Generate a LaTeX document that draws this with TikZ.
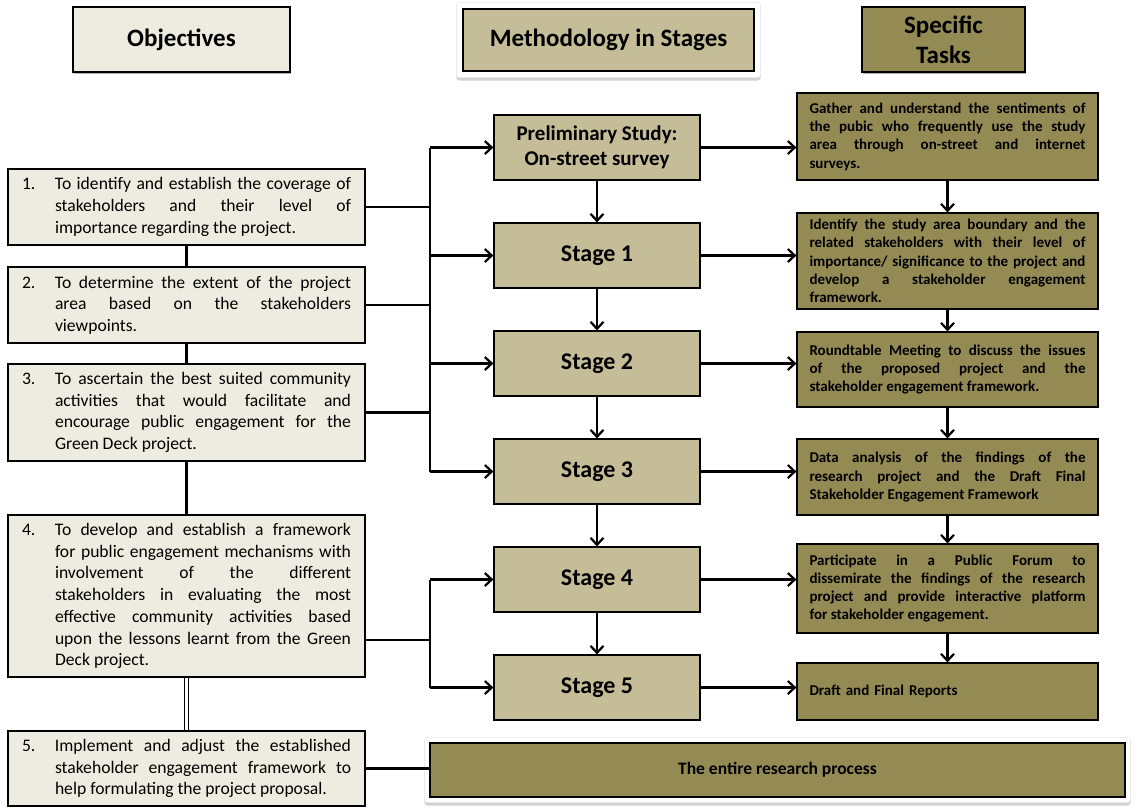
\documentclass[tikz,border=0pt]{standalone}
\usepackage{fontspec}
\setmainfont{Carlito}
\usetikzlibrary{arrows.meta, positioning, calc, fit, backgrounds, shadows}

\definecolor{objfill}{HTML}{EEECE1}
\definecolor{stagefill}{HTML}{C4BD97}
\definecolor{taskfill}{HTML}{948A54}

\tolerance=10000
\hbadness=10000
\newcommand{\objitem}[2]{\makebox[33pt][l]{#1}\parbox[t]{296pt}{#2}}

\tikzset{
  >={Straight Barb[length=7pt, width=13pt]},
  headbox/.style={draw, line width=1.2pt, minimum height=65pt, inner sep=3pt, font=\bfseries\fontsize{25}{30}\selectfont, align=center},
  headshadow/.style={drop shadow={opacity=.6, shadow xshift=1pt, shadow yshift=-2pt}},
  objbox/.style={draw, fill=objfill, line width=1.2pt, minimum width=357pt, inner xsep=14pt, inner ysep=3pt, font=\fontsize{17.6}{21.7}\selectfont},
  stagebox/.style={draw, fill=stagefill, line width=1.2pt, minimum width=206pt, minimum height=65pt, font=\bfseries\fontsize{24}{28}\selectfont, align=center},
  taskbox/.style={draw, fill=taskfill, line width=1.2pt, text width=276pt, inner xsep=12.5pt, inner ysep=2pt, font=\bfseries\fontsize{15}{18.3}\selectfont, align=justify},
  glowframe/.style={fill=white, draw=black!10, rounded corners=3pt, inner sep=6pt, drop shadow={opacity=.35, shadow xshift=0pt, shadow yshift=-3pt}},
  line/.style={line width=2.2pt},
  arr/.style={line, ->},
}

\begin{document}
\begin{tikzpicture}[x=1pt, y=-1pt]
    \useasboundingbox (0,0) rectangle (1139,807);

    \coordinate (bus) at (430,0);
    \coordinate (o4out) at (365,640);

    \node[headbox, headshadow, fill=objfill, minimum width=217pt] (hobj) at (181.5,39.5) {Objectives};
    \node[headbox, fill=stagefill, minimum width=291pt, minimum height=62pt] (hmeth) at (608.5,40) {Methodology in Stages};
    \node[headbox, headshadow, fill=taskfill, minimum width=163pt] (htask) at (943.5,39.5) {Specific\\Tasks};

    \node[objbox, minimum height=76pt] (o1) at (186.5,207) {\objitem{1.}{To identify and establish the coverage of\linebreak stakeholders and their level of\linebreak importance regarding the project.}};
    \node[objbox, minimum height=76pt] (o2) at (186.5,305) {\objitem{2.}{To determine the extent of the project\linebreak area based on the stakeholders\linebreak viewpoints.}};
    \node[objbox, minimum height=97pt] (o3) at (186.5,412.5) {\objitem{3.}{To ascertain the best suited community\linebreak activities that would facilitate and\linebreak encourage public engagement for the\linebreak Green Deck project.}};
    \node[objbox, minimum height=162pt] (o4) at (186.5,596) {\objitem{4.}{To develop and establish a framework\linebreak for public engagement mechanisms with\linebreak involvement of the different\linebreak stakeholders in evaluating the most\linebreak effective community activities based\linebreak upon the lessons learnt from the Green\linebreak Deck project.}};
    \node[objbox, minimum height=75pt] (o5) at (186.5,768.5) {\objitem{5.}{Implement and adjust the established\linebreak stakeholder engagement framework to\linebreak help formulating the project proposal.}};

    \node[stagebox, font=\bfseries\fontsize{21}{25}\selectfont] (s0) at (597,147.5) {Preliminary Study:\\On-street survey};
    \node[stagebox] (s1) at (597,255.5) {Stage 1};
    \node[stagebox] (s2) at (597,363.5) {Stage 2};
    \node[stagebox] (s3) at (597,471.5) {Stage 3};
    \node[stagebox] (s4) at (597,579.5) {Stage 4};
    \node[stagebox] (s5) at (597,687.5) {Stage 5};

    \node[taskbox, minimum height=87pt] (t0) at (947.5,136.5) {Gather and understand the sentiments of\linebreak the pubic who frequently use the study\linebreak area through on-street and internet\linebreak surveys.};
    \node[taskbox, minimum height=96pt] (t1) at (947.5,261) {Identify the study area boundary and the\linebreak related stakeholders with their level of\linebreak importance/ significance to the project and\linebreak develop a stakeholder engagement\linebreak framework.};
    \node[taskbox, minimum height=75pt] (t2) at (947.5,369.5) {Roundtable Meeting to discuss the issues\linebreak of the proposed project and the\linebreak stakeholder engagement framework.};
    \node[taskbox, minimum height=76pt] (t3) at (947.5,477) {Data analysis of the findings of the\linebreak research project and the Draft Final\linebreak Stakeholder Engagement Framework};
    \node[taskbox, minimum height=89pt] (t4) at (947.5,588.5) {Participate in a Public Forum to\linebreak dissemirate the findings of the research\linebreak project and provide interactive platform\linebreak for stakeholder engagement.};
    \node[taskbox, minimum height=57pt, align=left] (t5) at (947.5,691.5) {Draft and Final Reports};

    \node[draw, fill=taskfill, line width=1.2pt, minimum width=695pt, minimum height=54pt, font=\bfseries\fontsize{17.5}{21}\selectfont] (all) at (777.5,770) {The entire research process};

    \begin{scope}[on background layer]
      \node[glowframe, fit=(hmeth)] {};
      \node[glowframe, fit=(all), inner sep=5pt] {};
    \end{scope}

    \draw[line] (o1) -- (o2);
    \draw[line] (o2) -- (o3);
    \draw[line] (o3) -- (o4);
    \draw[line, double, double distance=3pt, line width=1.3pt] (o4) -- (o5);

    \draw[line] (o1.east) -- (bus |- o1.east);
    \draw[line] (o2.east) -- (bus |- o2.east);
    \draw[line] (o3.east) -- (bus |- o3.east);
    \draw[line] (bus |- s0.west) -- (bus |- s3.west);
    \foreach \s in {s0, s1, s2, s3, s4, s5}
      \draw[arr] (bus |- \s.west) -- (\s.west);
    \draw[line] (o4out) -- (bus |- o4out);
    \draw[line] (bus |- s4.west) -- (bus |- s5.west);
    \draw[line] (o5.east) -- (o5.east -| all.west);

    \draw[arr] (s0) -- (s1);
    \draw[arr] (s1) -- (s2);
    \draw[arr] (s2) -- (s3);
    \draw[arr] (s3) -- (s4);
    \draw[arr] (s4) -- (s5);

    \foreach \i in {0,...,5}
      \draw[arr] (s\i.east) -- (s\i.east -| t\i.west);

    \draw[arr] (t0) -- (t1);
    \draw[arr] (t1) -- (t2);
    \draw[arr] (t2) -- (t3);
    \draw[arr] (t3) -- (t4);
    \draw[arr] (t4) -- (t5);
\end{tikzpicture}
\end{document}
